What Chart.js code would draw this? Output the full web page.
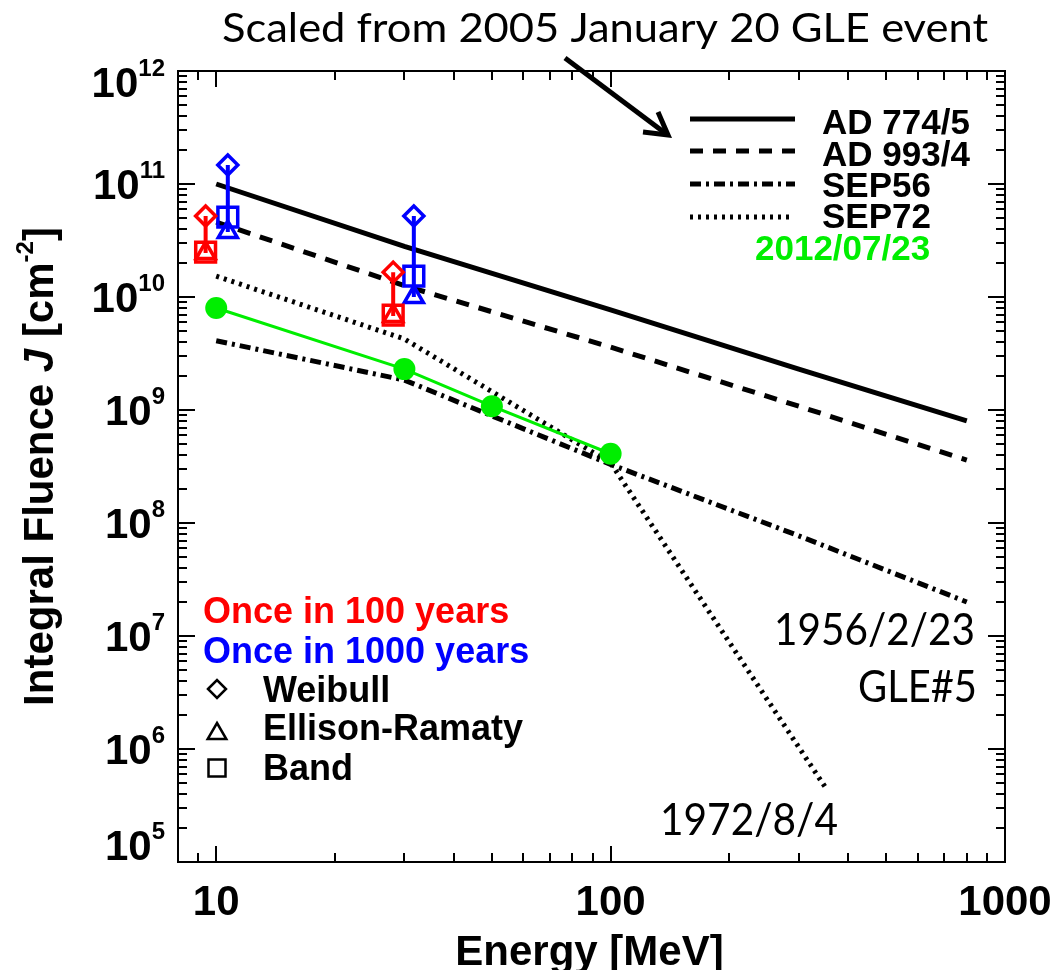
<!DOCTYPE html>
<html><head><meta charset="utf-8">
<script src="https://cdn.jsdelivr.net/npm/chart.js@4.4.0/dist/chart.umd.min.js"></script>
<style>html,body{margin:0;padding:0;background:#fff;} #c{display:block;}</style>
</head><body>
<canvas id="c" width="1051" height="970"></canvas>
<script>
// ---- data ----
const energyAD = [10, 30, 100, 300, 800];
const ad774 = [1.0e11, 2.8e10, 7.7e9, 2.3e9, 8.0e8];
const ad993 = [4.6e10, 1.26e10, 3.6e9, 1.08e9, 3.6e8];
const energySEP56 = [10, 30, 100, 300, 800];
const sep56 = [4.1e9, 1.84e9, 3.3e8, 7.7e7, 2.0e7];
const energySEP72 = [10, 30, 100, 350];
const sep72 = [1.53e10, 4.25e9, 3.4e8, 4.6e5];
const energy2012 = [10, 30, 50, 100];
const fluence2012 = [8.0e9, 2.3e9, 1.08e9, 4.1e8];
const energy100yr = [9.4, 28.1];
const weibull100yr = [5.2e10, 1.66e10];
const ellison100yr = [2.45e10, 6.8e9];
const band100yr = [2.5e10, 6.9e9];
const energy1000yr = [10.7, 31.7];
const weibull1000yr = [1.47e11, 5.2e10];
const ellison1000yr = [3.76e10, 1.0e10];
const band1000yr = [5.1e10, 1.53e10];
const xTickValues = [10, 100, 1000];
const xTickLabels = ['10', '100', '1000'];
const yTickExponents = [5, 6, 7, 8, 9, 10, 11, 12];
const xRange = [8, 1000];
const yRange = [1e5, 1e12];
const seriesNames = ['AD 774/5', 'AD 993/4', 'SEP56', 'SEP72', '2012/07/23'];

// ---- styles ----
const RED = '#ff0000', BLUE = '#0000ff', GREEN = '#00ee00', BLACK = '#000000';
const HELV = '"Liberation Sans", Arial, Helvetica, sans-serif';
const CAL = 'Lato, "Open Sans", sans-serif';
const DASHES = [[], [13, 10], [11, 5, 3, 5], [3, 5]];
const WIDTHS = [5, 5, 5, 5];

const pts = (xs, ys) => xs.map((x, i) => ({x: x, y: ys[i]}));
function lineDs(label, data, color, width, dash, order) {
  return {label, data, borderColor: color, backgroundColor: color, borderWidth: width,
    borderDash: dash, showLine: true, pointRadius: 0, pointHoverRadius: 0, order, tension: 0,
    borderCapStyle: 'butt', borderJoinStyle: 'miter'};
}
function markerDs(label, xs, ys, color, style, radius) {
  return {label, data: pts(xs, ys), showLine: false, pointStyle: style, pointRadius: radius,
    pointHoverRadius: radius, borderColor: color, backgroundColor: 'rgba(0,0,0,0)',
    pointBorderWidth: 3.5, borderWidth: 3.5, order: 1};
}
function errDs(label, xs, hi, lo1, lo2, color) {
  return xs.map((x, i) => lineDs(label, [{x: x, y: hi[i]}, {x: x, y: Math.min(lo1[i], lo2[i])}], color, 4, [], 3));
}

const datasets = [
  lineDs(seriesNames[0], pts(energyAD, ad774), BLACK, WIDTHS[0], DASHES[0], 10),
  lineDs(seriesNames[1], pts(energyAD, ad993), BLACK, WIDTHS[1], DASHES[1], 10),
  lineDs(seriesNames[2], pts(energySEP56, sep56), BLACK, WIDTHS[2], DASHES[2], 10),
  lineDs(seriesNames[3], pts(energySEP72, sep72), BLACK, WIDTHS[3], DASHES[3], 10),
  Object.assign(lineDs(seriesNames[4], pts(energy2012, fluence2012), GREEN, 3, [], 5),
    {pointRadius: 11, pointHoverRadius: 11, pointStyle: 'circle', pointBackgroundColor: GREEN, pointBorderWidth: 0}),
  ...errDs('100yr range', energy100yr, weibull100yr, ellison100yr, band100yr, RED),
  ...errDs('1000yr range', energy1000yr, weibull1000yr, ellison1000yr, band1000yr, BLUE),
  markerDs('Weibull 100yr', energy100yr, weibull100yr, RED, 'rectRot', 10),
  markerDs('Ellison-Ramaty 100yr', energy100yr, ellison100yr, RED, 'triangle', 11),
  markerDs('Band 100yr', energy100yr, band100yr, RED, 'rect', 14),
  markerDs('Weibull 1000yr', energy1000yr, weibull1000yr, BLUE, 'rectRot', 10),
  markerDs('Ellison-Ramaty 1000yr', energy1000yr, ellison1000yr, BLUE, 'triangle', 11),
  markerDs('Band 1000yr', energy1000yr, band1000yr, BLUE, 'rect', 14)
];

function fitText(ctx, text, font, x, baseline, width, align) {
  ctx.save();
  ctx.font = font;
  ctx.textAlign = 'left';
  ctx.textBaseline = 'alphabetic';
  const w = ctx.measureText(text).width;
  const s = width / w;
  const x0 = align === 'right' ? x - width : x;
  ctx.translate(x0, baseline);
  ctx.scale(s, 1);
  ctx.fillText(text, 0, 0);
  ctx.restore();
}

const decor = {
  id: 'decor',
  afterDatasetsDraw(chart) {
    const ctx = chart.ctx;
    const xs = chart.scales.x, ys = chart.scales.y;
    const {left, right, top, bottom} = chart.chartArea;
    ctx.save();
    ctx.fillStyle = BLACK; ctx.strokeStyle = BLACK;
    ctx.setLineDash([]);
    ctx.lineWidth = 2;
    ctx.lineCap = 'butt';
    ctx.strokeRect(left, top, right - left, bottom - top);
    const seg = (a, b, c, d) => { ctx.beginPath(); ctx.moveTo(a, b); ctx.lineTo(c, d); ctx.stroke(); };
    // x ticks (inward, top and bottom)
    for (let d = 0; d <= 3; d++) for (let m = 1; m <= 9; m++) {
      const v = m * Math.pow(10, d);
      if (v <= xRange[0] || v > xRange[1]) continue;
      const px = Math.round(xs.getPixelForValue(v));
      const len = m === 1 ? 16 : 9;
      seg(px, bottom, px, bottom - len);
      seg(px, top, px, top + len);
    }
    // y ticks (inward, left and right)
    for (let d = 5; d <= 12; d++) for (let m = 1; m <= 9; m++) {
      const v = m * Math.pow(10, d);
      if (v < yRange[0] || v > yRange[1]) continue;
      const py = Math.round(ys.getPixelForValue(v));
      const len = m === 1 ? 17 : 9;
      seg(left, py, left + len, py);
      seg(right, py, right - len, py);
    }
    // x tick labels
    ctx.font = 'bold 42px ' + HELV;
    ctx.textAlign = 'center'; ctx.textBaseline = 'alphabetic';
    xTickValues.forEach((v, i) => ctx.fillText(xTickLabels[i], xs.getPixelForValue(v), 915));
    // y tick labels 10^n
    const bf = 'bold 42px ' + HELV, sf = 'bold 24px ' + HELV;
    yTickExponents.forEach(e => {
      const py = ys.getPixelForValue(Math.pow(10, e));
      const cy = Math.min(Math.max(py, top + 11), bottom - 17);
      const base = cy + 15;
      ctx.textAlign = 'left';
      ctx.font = sf; const sw = ctx.measureText(String(e)).width;
      ctx.font = bf; const bw = ctx.measureText('10').width;
      const rx = 165;
      ctx.fillText('10', rx - sw - bw, base);
      ctx.font = sf; ctx.fillText(String(e), rx - sw, base - 21);
    });
    // axis titles
    ctx.font = 'bold 42px ' + HELV;
    ctx.textAlign = 'center';
    ctx.fillText('Energy [MeV]', (left + right) / 2 - 2, 965);
    ctx.save();
    ctx.translate(53, (top + bottom) / 2);
    ctx.rotate(-Math.PI / 2);
    const parts = [
      ['Integral Fluence ', 'bold 42px ' + HELV, 0],
      ['J', 'italic bold 42px ' + HELV, 0],
      [' [cm', 'bold 42px ' + HELV, 0],
      ['-2', 'bold 24px ' + HELV, -20],
      [']', 'bold 42px ' + HELV, 0]
    ];
    let tot = 0;
    parts.forEach(p => { ctx.font = p[1]; tot += ctx.measureText(p[0]).width; });
    let cx = -tot / 2;
    ctx.textAlign = 'left';
    parts.forEach(p => { ctx.font = p[1]; ctx.fillText(p[0], cx, p[2]); cx += ctx.measureText(p[0]).width; });
    ctx.restore();

    // top-right legend
    const ly = [119, 151, 184, 217];
    const lb = [134, 166, 197, 228];
    for (let i = 0; i < 4; i++) {
      ctx.lineWidth = WIDTHS[i];
      ctx.setLineDash(DASHES[i]);
      seg(690, ly[i], i === 3 ? 790 : 795, ly[i]);
      ctx.setLineDash([]);
      ctx.font = 'bold 35px ' + HELV;
      ctx.textAlign = 'left';
      ctx.fillStyle = BLACK;
      ctx.fillText(seriesNames[i], 822, lb[i]);
    }
    ctx.fillStyle = GREEN;
    ctx.fillText(seriesNames[4], 755, 260);

    // bottom-left legend
    ctx.font = 'bold 36px ' + HELV;
    ctx.fillStyle = RED; ctx.fillText('Once in 100 years', 203, 623);
    ctx.fillStyle = BLUE; ctx.fillText('Once in 1000 years', 203, 663);
    ctx.fillStyle = BLACK;
    ctx.fillText('Weibull', 263, 702);
    ctx.fillText('Ellison-Ramaty', 263, 740);
    ctx.fillText('Band', 263, 780);
    ctx.lineWidth = 2.5; ctx.lineJoin = 'miter';
    ctx.beginPath(); ctx.moveTo(208, 689); ctx.lineTo(217, 680); ctx.lineTo(226, 689); ctx.lineTo(217, 698); ctx.closePath(); ctx.stroke();
    ctx.beginPath(); ctx.moveTo(217, 723); ctx.lineTo(226.3, 739); ctx.lineTo(207.7, 739); ctx.closePath(); ctx.stroke();
    ctx.strokeRect(208.5, 759.5, 17, 17);

    // annotations
    ctx.fillStyle = BLACK;
    fitText(ctx, 'Scaled from 2005 January 20 GLE event', '41px ' + CAL, 222, 42, 766, 'left');
    fitText(ctx, '1956/2/23', '44px ' + CAL, 975, 645, 201, 'right');
    fitText(ctx, 'GLE#5', '44px ' + CAL, 977, 702, 119, 'right');
    fitText(ctx, '1972/8/4', '44px ' + CAL, 660, 835, 178, 'left');

    // arrow
    ctx.lineWidth = 5;
    ctx.lineCap = 'butt';
    seg(565, 58, 665, 133);
    ctx.lineJoin = 'miter';
    ctx.beginPath(); ctx.moveTo(643, 132); ctx.lineTo(668, 135); ctx.lineTo(658, 112); ctx.stroke();
    ctx.restore();
  }
};

new Chart(document.getElementById('c'), {
  type: 'scatter',
  data: {datasets},
  options: {
    responsive: false, animation: false, devicePixelRatio: 1,
    layout: {padding: {left: 178, right: 46, top: 71, bottom: 108}},
    scales: {
      x: {type: 'logarithmic', min: xRange[0], max: xRange[1], display: false},
      y: {type: 'logarithmic', min: yRange[0], max: yRange[1], display: false}
    },
    plugins: {legend: {display: false}, tooltip: {enabled: false}}
  },
  plugins: [decor]
});
</script>
</body></html>
